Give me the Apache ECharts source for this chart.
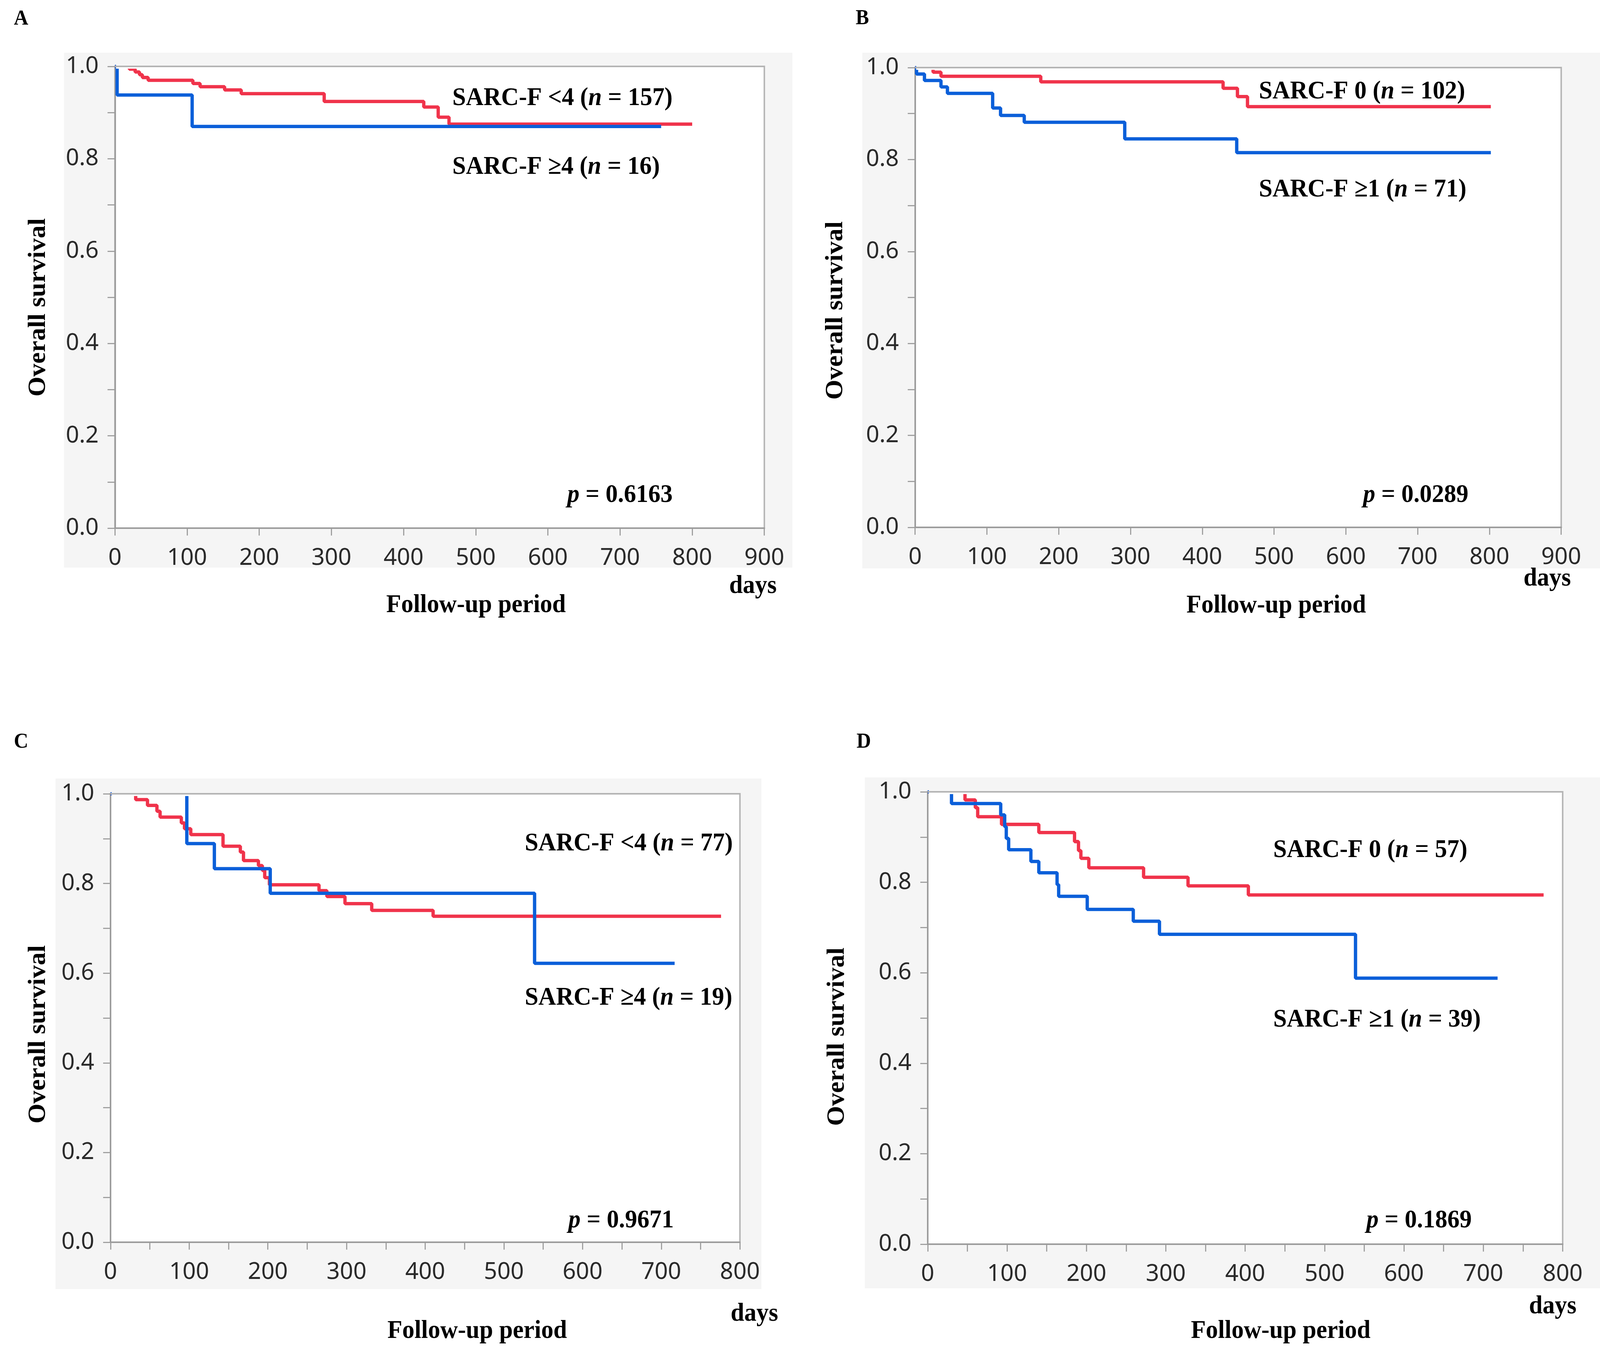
<!DOCTYPE html>
<html>
<head>
<meta charset="utf-8">
<script src="https://cdn.jsdelivr.net/npm/echarts@6/dist/echarts.min.js"></script>
<style>html,body{margin:0;padding:0;background:#fff;overflow:hidden}#c{width:100vw;height:100vh}</style>
</head>
<body>
<div id="c"></div>
<script>
// ---------- DATA (Kaplan-Meier step points: time in days, survival) ----------
// Panel A: SARC-F <4 vs >=4
const A_lowT  = [0, 20, 28, 34, 38, 46, 108, 118, 152, 175, 290, 428, 448, 463, 800];
const A_lowS  = [1, 0.994, 0.988, 0.982, 0.976, 0.970, 0.963, 0.956, 0.949, 0.941, 0.924, 0.912, 0.890, 0.875, 0.875];
const A_highT = [0, 3, 107, 757];
const A_highS = [1, 0.938, 0.870, 0.870];
// Panel B: SARC-F 0 vs >=1
const B_lowT  = [0, 25, 36, 175, 429, 449, 463, 802];
const B_lowS  = [1, 0.990, 0.981, 0.969, 0.955, 0.937, 0.915, 0.915];
const B_highT = [0, 2, 13, 36, 45, 108, 119, 152, 292, 448, 802];
const B_highS = [1, 0.986, 0.972, 0.958, 0.944, 0.912, 0.896, 0.881, 0.845, 0.815, 0.815];
// Panel C: SARC-F <4 vs >=4
const C_lowT  = [0, 32, 47, 59, 63, 90, 94, 102, 143, 165, 169, 188, 193, 196, 202, 265, 275, 298, 332, 410, 776];
const C_lowS  = [1, 0.987, 0.974, 0.961, 0.948, 0.935, 0.922, 0.909, 0.883, 0.870, 0.851, 0.840, 0.829, 0.813, 0.797, 0.784, 0.771, 0.755, 0.740, 0.727, 0.727];
const C_highT = [0, 97, 132, 203, 539, 717];
const C_highS = [1, 0.889, 0.833, 0.778, 0.622, 0.622];
// Panel D: SARC-F 0 vs >=1
const D_lowT  = [0, 47, 60, 63, 93, 140, 185, 190, 193, 203, 272, 328, 404, 776];
const D_lowS  = [1, 0.982, 0.965, 0.945, 0.928, 0.910, 0.890, 0.870, 0.853, 0.832, 0.811, 0.792, 0.772, 0.772];
const D_highT = [0, 30, 92, 97, 99, 102, 130, 140, 163, 165, 201, 259, 292, 539, 718];
const D_highS = [1, 0.974, 0.949, 0.923, 0.897, 0.872, 0.846, 0.821, 0.795, 0.769, 0.740, 0.714, 0.685, 0.588, 0.588];

const panelLetters = ['A', 'B', 'C', 'D'];
const xMax = [900, 900, 800, 800];
const lowLabels  = [['SARC-F <4 (', ' = 157)'], ['SARC-F 0 (', ' = 102)'], ['SARC-F <4 (', ' = 77)'], ['SARC-F 0 (', ' = 57)']];
const highLabels = [['SARC-F \u22654 (', ' = 16)'], ['SARC-F \u22651 (', ' = 71)'], ['SARC-F \u22654 (', ' = 19)'], ['SARC-F \u22651 (', ' = 39)']];
const pValues = ['0.6163', '0.0289', '0.9671', '0.1869'];
const yTitle = 'Overall survival';
const xTitle = 'Follow-up period';
const xUnit = 'days';

// ---------- LAYOUT (reference pixel frame 4329 x 3461, scaled to the viewport) ----------
const el = document.getElementById('c');
const S = (el.clientWidth || 4329) / 4329;
const T = (el.clientHeight || 3461) / 3461;
const M = Math.min(S, T);
const X = v => v * S, Y = v => v * T, F = v => v * M;

const gridsRef = [
  [311, 170, 1757, 1182],
  [2476, 173, 1748, 1177],
  [299, 2032, 1703, 1148],
  [2510, 2027, 1718, 1158]
];
const boxes = [
  [173, 135, 1971, 1318],
  [2333, 135, 1996, 1320],
  [150, 1993, 1910, 1307],
  [2340, 1990, 1989, 1308]
];
const letterPos = [[57, 49], [2333, 48], [57, 1900], [2337, 1900]];
const lowPos  = [[1224, 252], [3406, 235], [1420, 2160], [3445, 2177]];
const highPos = [[1224, 428], [3406, 486], [1420, 2555], [3445, 2611]];
const pPos    = [[1820, 1268], [3973, 1268], [1823, 3125], [3982, 3125]];
const xtPos   = [[1288, 1550], [3453, 1551], [1291, 3408], [3465, 3408]];
const unitPos = [[1973, 1501], [4122, 1482], [1977, 3364], [4137, 3345]];
const ytPos   = [[104, 787], [2262, 795], [104, 2648], [2266, 2654]];

const RED = '#f0334b', BLUE = '#0b5fd9';
const AX = '#9c9c9c', FRAME = '#b4b4b4', BOX = '#f5f5f5';
const SERIF = '"Liberation Serif", "Times New Roman", serif';
const SANS = '"Noto Sans", "DejaVu Sans", sans-serif';

function zip(t, s) { return t.map((v, i) => [v, s[i]]); }
const curves = [
  [zip(A_lowT, A_lowS), zip(A_highT, A_highS)],
  [zip(B_lowT, B_lowS), zip(B_highT, B_highS)],
  [zip(C_lowT, C_lowS), zip(C_highT, C_highS)],
  [zip(D_lowT, D_lowS), zip(D_highT, D_highS)]
];

const option = {
  backgroundColor: '#ffffff',
  animation: false,
  grid: gridsRef.map(g => ({show: true, backgroundColor: '#ffffff', borderColor: FRAME, borderWidth: F(4),
    left: X(g[0]), top: Y(g[1]), width: X(g[2]), height: Y(g[3])})),
  xAxis: gridsRef.map((g, i) => ({
    type: 'value', gridIndex: i, min: 0, max: xMax[i], interval: 100,
    axisLine: {show: true, onZero: false, lineStyle: {color: AX, width: F(4)}},
    axisTick: {show: true, length: F(20), lineStyle: {color: AX, width: F(3)}},
    minorTick: {show: i >= 2, splitNumber: 2, length: F(20), lineStyle: {color: AX, width: F(3)}},
    splitLine: {show: false},
    axisLabel: {fontFamily: SANS, fontSize: F(63), color: '#2a2a2a', margin: F(50)}
  })),
  yAxis: gridsRef.map((g, i) => ({
    type: 'value', gridIndex: i, min: 0, max: 1, interval: 0.2,
    axisLine: {show: true, onZero: false, lineStyle: {color: AX, width: F(4)}},
    axisTick: {show: true, length: F(20), lineStyle: {color: AX, width: F(3)}},
    minorTick: {show: true, splitNumber: 2, length: F(20), lineStyle: {color: AX, width: F(3)}},
    splitLine: {show: false},
    axisLabel: {fontFamily: SANS, fontSize: F(63), color: '#2a2a2a', margin: F(44),
      formatter: v => v.toFixed(1)}
  })),
  series: []
};

curves.forEach((pair, i) => {
  option.series.push({type: 'line', xAxisIndex: i, yAxisIndex: i, step: 'end', showSymbol: false, symbol: 'none',
    data: pair[0], lineStyle: {color: RED, width: F(9)}, z: 3});
  option.series.push({type: 'line', xAxisIndex: i, yAxisIndex: i, step: 'end', showSymbol: false, symbol: 'none',
    data: pair[1], lineStyle: {color: BLUE, width: F(9)}, z: 4});
});

// serif texts: sized on the vertical scale, squeezed horizontally like the reference
const FS = 66 * T;
const rich = {
  b: {fontFamily: SERIF, fontWeight: 'bold', fontSize: FS, fill: '#000', color: '#000'},
  i: {fontFamily: SERIF, fontWeight: 'bold', fontStyle: 'italic', fontSize: FS, fill: '#000', color: '#000'}
};
function txt(x, y, text, align, size) {
  return {
    type: 'text', x: X(x), y: Y(y), z: 50, scaleX: S / T, scaleY: 1,
    style: {text: text, fill: '#000', fontFamily: SERIF, fontWeight: 'bold', fontSize: (size || 66) * T,
      align: align, textAlign: align, verticalAlign: 'middle', textVerticalAlign: 'middle', rich: rich}
  };
}

const elements = [];
boxes.forEach(b => elements.push({type: 'rect', z: -100,
  shape: {x: X(b[0]), y: Y(b[1]), width: X(b[2]), height: Y(b[3])}, style: {fill: BOX}}));
// top frame drawn over the curves (curves at 1.0 sit under the frame, as in the reference)
gridsRef.forEach(g => {
  elements.push({type: 'rect', z: 40, shape: {x: X(g[0]) + F(3), y: Y(g[1]) - F(9), width: X(g[2]) - F(6), height: F(9)},
    style: {fill: BOX}});
  elements.push({type: 'rect', z: 40, shape: {x: X(g[0]) + F(3), y: Y(g[1]), width: X(g[2]) - F(6), height: F(6)},
    style: {fill: '#ffffff'}});
  elements.push({type: 'line', z: 41, shape: {x1: X(g[0]), y1: Y(g[1]), x2: X(g[0] + g[2]), y2: Y(g[1])},
    style: {stroke: FRAME, lineWidth: F(4)}});
});
for (let i = 0; i < 4; i++) {
  elements.push(txt(letterPos[i][0], letterPos[i][1], panelLetters[i], 'center', 54));
  elements.push(txt(lowPos[i][0], lowPos[i][1], '{b|' + lowLabels[i][0] + '}{i|n}{b|' + lowLabels[i][1] + '}', 'left'));
  elements.push(txt(highPos[i][0], highPos[i][1], '{b|' + highLabels[i][0] + '}{i|n}{b|' + highLabels[i][1] + '}', 'left'));
  elements.push(txt(pPos[i][0], pPos[i][1], '{i|p}{b| = ' + pValues[i] + '}', 'right'));
  elements.push(txt(xtPos[i][0], xtPos[i][1], xTitle, 'center'));
  elements.push(txt(unitPos[i][0], unitPos[i][1], xUnit, 'left'));
  elements.push({type: 'text', x: X(ytPos[i][0]), y: Y(ytPos[i][1]), rotation: Math.PI / 2, z: 50,
    scaleX: 1, scaleY: S / T,
    style: {text: yTitle, fill: '#000', fontFamily: SERIF, fontWeight: 'bold', fontSize: FS,
      align: 'center', textAlign: 'center', verticalAlign: 'middle', textVerticalAlign: 'middle'}});
}
option.graphic = {elements: elements};

const chart = echarts.init(el, null, {renderer: 'canvas'});
chart.setOption(option);
</script>
</body>
</html>
